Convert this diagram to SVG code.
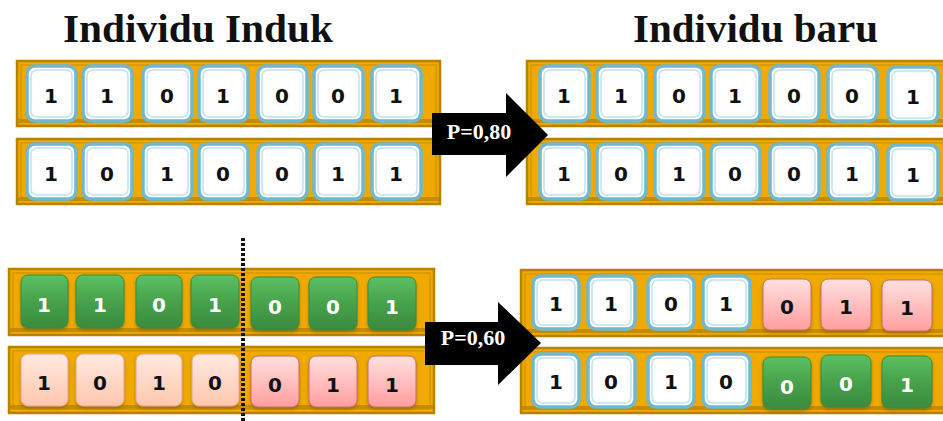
<svg xmlns="http://www.w3.org/2000/svg" width="943" height="421" viewBox="0 0 943 421">
  <defs>
    <linearGradient id="gGreen" x1="0" y1="0" x2="0" y2="1">
      <stop offset="0" stop-color="#5CC063"/>
      <stop offset="0.5" stop-color="#47A24B"/>
      <stop offset="1" stop-color="#3B8A3E"/>
    </linearGradient>
    <linearGradient id="gPeach" x1="0" y1="0" x2="0" y2="1">
      <stop offset="0" stop-color="#FFE9E0"/>
      <stop offset="1" stop-color="#FFC7AE"/>
    </linearGradient>
    <linearGradient id="gPink" x1="0" y1="0" x2="0" y2="1">
      <stop offset="0" stop-color="#FFE0E0"/>
      <stop offset="1" stop-color="#FF9E9E"/>
    </linearGradient>
    <filter id="shadow" x="-20%" y="-20%" width="140%" height="150%">
      <feDropShadow dx="0" dy="2" stdDeviation="1.5" flood-color="#6B4A00" flood-opacity="0.45"/>
    </filter>
  </defs>
  <style>
    .title { font-family: "Liberation Serif", "DejaVu Serif", serif; font-weight: bold; font-size: 40px; fill: #111; }
    .bar { fill: #EFA900; stroke: #B88200; stroke-width: 2.5; }
    .barIn { fill: none; stroke: #C98F00; stroke-width: 1; }
    .barBase { fill: #C48C00; }
    .w { fill: #FFFFFF; stroke: #6DB9D2; stroke-width: 3.5; }
    .wIn { fill: none; stroke: #BFE2EE; stroke-width: 1.5; }
    .g { fill: url(#gGreen); stroke: #3A8A3E; stroke-width: 1; filter: url(#shadow); }
    .pe { fill: url(#gPeach); stroke: #E8A48C; stroke-width: 1; filter: url(#shadow); }
    .pk { fill: url(#gPink); stroke: #D06A6A; stroke-width: 1; filter: url(#shadow); }
    .d { font-family: "DejaVu Sans", Verdana, sans-serif; font-weight: bold; font-size: 20px; fill: #111; text-anchor: middle; }
    .dw { font-family: "DejaVu Sans", Verdana, sans-serif; font-weight: bold; font-size: 20px; fill: #FFFFFF; text-anchor: middle; }
    .arrow { fill: #000; }
    .plabel { font-family: "Liberation Serif", "DejaVu Serif", serif; font-weight: bold; font-size: 22px; fill: #FFFFFF; text-anchor: middle; }
    .cut { stroke: #111; stroke-width: 4; stroke-dasharray: 3 2; fill: none; }
  </style>

  <!-- headings -->
  <text class="title" x="63" y="42" textLength="270" lengthAdjust="spacingAndGlyphs">Individu Induk</text>
  <text class="title" x="633" y="42" textLength="245" lengthAdjust="spacingAndGlyphs">Individu baru</text>

  <!-- parent chromosome 1 -->
  <g id="parent1">
    <rect class="bar" x="17" y="61" width="423" height="65"/>
    <rect class="barIn" x="21" y="65" width="415" height="57"/>
    <rect class="barBase" x="18" y="119" width="421" height="4"/>
    <g>
      <rect class="w" x="27" y="66" width="49" height="55" rx="8"/><rect class="wIn" x="31" y="70" width="41" height="47" rx="6"/>
      <rect class="w" x="83" y="66" width="49" height="55" rx="8"/><rect class="wIn" x="87" y="70" width="41" height="47" rx="6"/>
      <rect class="w" x="143" y="66" width="49" height="55" rx="8"/><rect class="wIn" x="147" y="70" width="41" height="47" rx="6"/>
      <rect class="w" x="199" y="66" width="49" height="55" rx="8"/><rect class="wIn" x="203" y="70" width="41" height="47" rx="6"/>
      <rect class="w" x="258" y="66" width="49" height="55" rx="8"/><rect class="wIn" x="262" y="70" width="41" height="47" rx="6"/>
      <rect class="w" x="314" y="66" width="49" height="55" rx="8"/><rect class="wIn" x="318" y="70" width="41" height="47" rx="6"/>
      <rect class="w" x="372" y="66" width="49" height="55" rx="8"/><rect class="wIn" x="376" y="70" width="41" height="47" rx="6"/>
    </g>
    <text class="d" x="51" y="103">1</text>
    <text class="d" x="107" y="103">1</text>
    <text class="d" x="167" y="103">0</text>
    <text class="d" x="223" y="103">1</text>
    <text class="d" x="282" y="103">0</text>
    <text class="d" x="338" y="103">0</text>
    <text class="d" x="396" y="103">1</text>
  </g>

  <!-- parent chromosome 2 -->
  <g id="parent2">
    <rect class="bar" x="17" y="139" width="423" height="65"/>
    <rect class="barIn" x="21" y="143" width="415" height="57"/>
    <rect class="barBase" x="18" y="197" width="421" height="4"/>
    <g>
      <rect class="w" x="27" y="144" width="49" height="55" rx="8"/><rect class="wIn" x="31" y="148" width="41" height="47" rx="6"/>
      <rect class="w" x="83" y="144" width="49" height="55" rx="8"/><rect class="wIn" x="87" y="148" width="41" height="47" rx="6"/>
      <rect class="w" x="143" y="144" width="49" height="55" rx="8"/><rect class="wIn" x="147" y="148" width="41" height="47" rx="6"/>
      <rect class="w" x="199" y="144" width="49" height="55" rx="8"/><rect class="wIn" x="203" y="148" width="41" height="47" rx="6"/>
      <rect class="w" x="258" y="144" width="49" height="55" rx="8"/><rect class="wIn" x="262" y="148" width="41" height="47" rx="6"/>
      <rect class="w" x="314" y="144" width="49" height="55" rx="8"/><rect class="wIn" x="318" y="148" width="41" height="47" rx="6"/>
      <rect class="w" x="372" y="144" width="49" height="55" rx="8"/><rect class="wIn" x="376" y="148" width="41" height="47" rx="6"/>
    </g>
    <text class="d" x="51" y="181">1</text>
    <text class="d" x="107" y="181">0</text>
    <text class="d" x="167" y="181">1</text>
    <text class="d" x="223" y="181">0</text>
    <text class="d" x="282" y="181">0</text>
    <text class="d" x="338" y="181">1</text>
    <text class="d" x="396" y="181">1</text>
  </g>

  <!-- offspring 1 (unchanged copy) -->
  <g id="child1">
    <rect class="bar" x="527" y="61" width="420" height="65"/>
    <rect class="barIn" x="531" y="65" width="416" height="57"/>
    <rect class="barBase" x="528" y="119" width="419" height="4"/>
    <g>
      <rect class="w" x="540" y="66" width="49" height="55" rx="8"/><rect class="wIn" x="544" y="70" width="41" height="47" rx="6"/>
      <rect class="w" x="597" y="66" width="49" height="55" rx="8"/><rect class="wIn" x="601" y="70" width="41" height="47" rx="6"/>
      <rect class="w" x="655" y="66" width="49" height="55" rx="8"/><rect class="wIn" x="659" y="70" width="41" height="47" rx="6"/>
      <rect class="w" x="711" y="66" width="49" height="55" rx="8"/><rect class="wIn" x="715" y="70" width="41" height="47" rx="6"/>
      <rect class="w" x="770" y="66" width="49" height="55" rx="8"/><rect class="wIn" x="774" y="70" width="41" height="47" rx="6"/>
      <rect class="w" x="828" y="66" width="49" height="55" rx="8"/><rect class="wIn" x="832" y="70" width="41" height="47" rx="6"/>
      <rect class="w" x="888" y="67" width="50" height="55" rx="8"/><rect class="wIn" x="892" y="71" width="42" height="47" rx="6"/>
    </g>
    <text class="d" x="564" y="103">1</text>
    <text class="d" x="621" y="103">1</text>
    <text class="d" x="679" y="103">0</text>
    <text class="d" x="735" y="103">1</text>
    <text class="d" x="794" y="103">0</text>
    <text class="d" x="852" y="103">0</text>
    <text class="d" x="913" y="104">1</text>
  </g>

  <!-- offspring 2 (unchanged copy) -->
  <g id="child2">
    <rect class="bar" x="527" y="139" width="420" height="65"/>
    <rect class="barIn" x="531" y="143" width="416" height="57"/>
    <rect class="barBase" x="528" y="197" width="419" height="4"/>
    <g>
      <rect class="w" x="540" y="144" width="49" height="55" rx="8"/><rect class="wIn" x="544" y="148" width="41" height="47" rx="6"/>
      <rect class="w" x="597" y="144" width="49" height="55" rx="8"/><rect class="wIn" x="601" y="148" width="41" height="47" rx="6"/>
      <rect class="w" x="655" y="144" width="49" height="55" rx="8"/><rect class="wIn" x="659" y="148" width="41" height="47" rx="6"/>
      <rect class="w" x="711" y="144" width="49" height="55" rx="8"/><rect class="wIn" x="715" y="148" width="41" height="47" rx="6"/>
      <rect class="w" x="770" y="144" width="49" height="55" rx="8"/><rect class="wIn" x="774" y="148" width="41" height="47" rx="6"/>
      <rect class="w" x="828" y="144" width="49" height="55" rx="8"/><rect class="wIn" x="832" y="148" width="41" height="47" rx="6"/>
      <rect class="w" x="888" y="145" width="50" height="55" rx="8"/><rect class="wIn" x="892" y="149" width="42" height="47" rx="6"/>
    </g>
    <text class="d" x="564" y="181">1</text>
    <text class="d" x="621" y="181">0</text>
    <text class="d" x="679" y="181">1</text>
    <text class="d" x="735" y="181">0</text>
    <text class="d" x="794" y="181">0</text>
    <text class="d" x="852" y="181">1</text>
    <text class="d" x="913" y="182">1</text>
  </g>

  <!-- parent chromosome 3 (green) -->
  <g id="parent3">
    <rect class="bar" x="9" y="269" width="425" height="66"/>
    <rect class="barIn" x="13" y="273" width="417" height="58"/>
    <rect class="barBase" x="10" y="328" width="423" height="4"/>
    <rect class="g" x="21" y="275" width="47" height="53" rx="7"/>
    <rect class="g" x="76" y="275" width="48" height="53" rx="7"/>
    <rect class="g" x="136" y="275" width="46" height="53" rx="7"/>
    <rect class="g" x="191" y="275" width="48" height="53" rx="7"/>
    <rect class="g" x="251" y="277" width="48" height="53" rx="7"/>
    <rect class="g" x="309" y="277" width="48" height="53" rx="7"/>
    <rect class="g" x="368" y="277" width="48" height="53" rx="7"/>
    <text class="dw" x="44" y="312">1</text>
    <text class="dw" x="100" y="312">1</text>
    <text class="dw" x="159" y="312">0</text>
    <text class="dw" x="215" y="312">1</text>
    <text class="dw" x="275" y="314">0</text>
    <text class="dw" x="333" y="314">0</text>
    <text class="dw" x="392" y="314">1</text>
  </g>

  <!-- parent chromosome 4 (peach / pink) -->
  <g id="parent4">
    <rect class="bar" x="9" y="347" width="425" height="66"/>
    <rect class="barIn" x="13" y="351" width="417" height="58"/>
    <rect class="barBase" x="10" y="405" width="423" height="4"/>
    <rect class="pe" x="21" y="354" width="47" height="52" rx="7"/>
    <rect class="pe" x="76" y="354" width="48" height="52" rx="7"/>
    <rect class="pe" x="136" y="354" width="46" height="52" rx="7"/>
    <rect class="pe" x="192" y="354" width="47" height="52" rx="7"/>
    <rect class="pk" x="251" y="356" width="48" height="51" rx="7"/>
    <rect class="pk" x="309" y="356" width="48" height="51" rx="7"/>
    <rect class="pk" x="368" y="356" width="48" height="51" rx="7"/>
    <text class="d" x="44" y="390">1</text>
    <text class="d" x="100" y="390">0</text>
    <text class="d" x="159" y="390">1</text>
    <text class="d" x="215" y="390">0</text>
    <text class="d" x="275" y="392">0</text>
    <text class="d" x="333" y="392">1</text>
    <text class="d" x="392" y="392">1</text>
  </g>

  <!-- offspring 3 (crossed) -->
  <g id="child3">
    <rect class="bar" x="521" y="270" width="426" height="66"/>
    <rect class="barIn" x="525" y="274" width="422" height="58"/>
    <rect class="barBase" x="522" y="329" width="425" height="4"/>
    <rect class="w" x="533" y="276" width="46" height="53" rx="8"/><rect class="wIn" x="537" y="280" width="38" height="45" rx="6"/>
    <rect class="w" x="588" y="276" width="47" height="53" rx="8"/><rect class="wIn" x="592" y="280" width="39" height="45" rx="6"/>
    <rect class="w" x="648" y="276" width="46" height="53" rx="8"/><rect class="wIn" x="652" y="280" width="38" height="45" rx="6"/>
    <rect class="w" x="703" y="276" width="47" height="53" rx="8"/><rect class="wIn" x="707" y="280" width="39" height="45" rx="6"/>
    <rect class="pk" x="763" y="279" width="48" height="51" rx="7"/>
    <rect class="pk" x="821" y="279" width="50" height="51" rx="7"/>
    <rect class="pk" x="882" y="280" width="50" height="51" rx="7"/>
    <text class="d" x="556" y="311">1</text>
    <text class="d" x="611" y="311">1</text>
    <text class="d" x="671" y="311">0</text>
    <text class="d" x="726" y="311">1</text>
    <text class="d" x="787" y="314">0</text>
    <text class="d" x="846" y="314">1</text>
    <text class="d" x="907" y="315">1</text>
  </g>

  <!-- offspring 4 (crossed) -->
  <g id="child4">
    <rect class="bar" x="521" y="348" width="426" height="65"/>
    <rect class="barIn" x="525" y="352" width="422" height="57"/>
    <rect class="barBase" x="522" y="406" width="425" height="4"/>
    <rect class="w" x="533" y="354" width="46" height="53" rx="8"/><rect class="wIn" x="537" y="358" width="38" height="45" rx="6"/>
    <rect class="w" x="588" y="354" width="47" height="53" rx="8"/><rect class="wIn" x="592" y="358" width="39" height="45" rx="6"/>
    <rect class="w" x="648" y="354" width="46" height="53" rx="8"/><rect class="wIn" x="652" y="358" width="38" height="45" rx="6"/>
    <rect class="w" x="703" y="354" width="47" height="53" rx="8"/><rect class="wIn" x="707" y="358" width="39" height="45" rx="6"/>
    <rect class="g" x="763" y="357" width="48" height="52" rx="7"/>
    <rect class="g" x="821" y="355" width="50" height="52" rx="7"/>
    <rect class="g" x="882" y="356" width="50" height="52" rx="7"/>
    <text class="dw" x="787" y="394">0</text>
    <text class="dw" x="846" y="391">0</text>
    <text class="dw" x="907" y="392">1</text>
    <text class="d" x="556" y="389">1</text>
    <text class="d" x="611" y="389">0</text>
    <text class="d" x="671" y="389">1</text>
    <text class="d" x="726" y="389">0</text>
  </g>

  <!-- crossover cut point -->
  <line class="cut" x1="243" y1="238" x2="243" y2="421"/>

  <!-- probability arrows -->
  <g id="connectors">
    <g id="arrow1">
      <path class="arrow" d="M432,113 L506,113 L506,93 L548,135 L506,177 L506,155 L432,155 Z"/>
      <text class="plabel" x="479" y="139">P=0,80</text>
    </g>
    <g id="arrow2">
      <path class="arrow" d="M425,322 L498,322 L498,302 L541,343 L498,385 L498,365 L425,365 Z"/>
      <text class="plabel" x="473" y="345">P=0,60</text>
    </g>
  </g>
</svg>
